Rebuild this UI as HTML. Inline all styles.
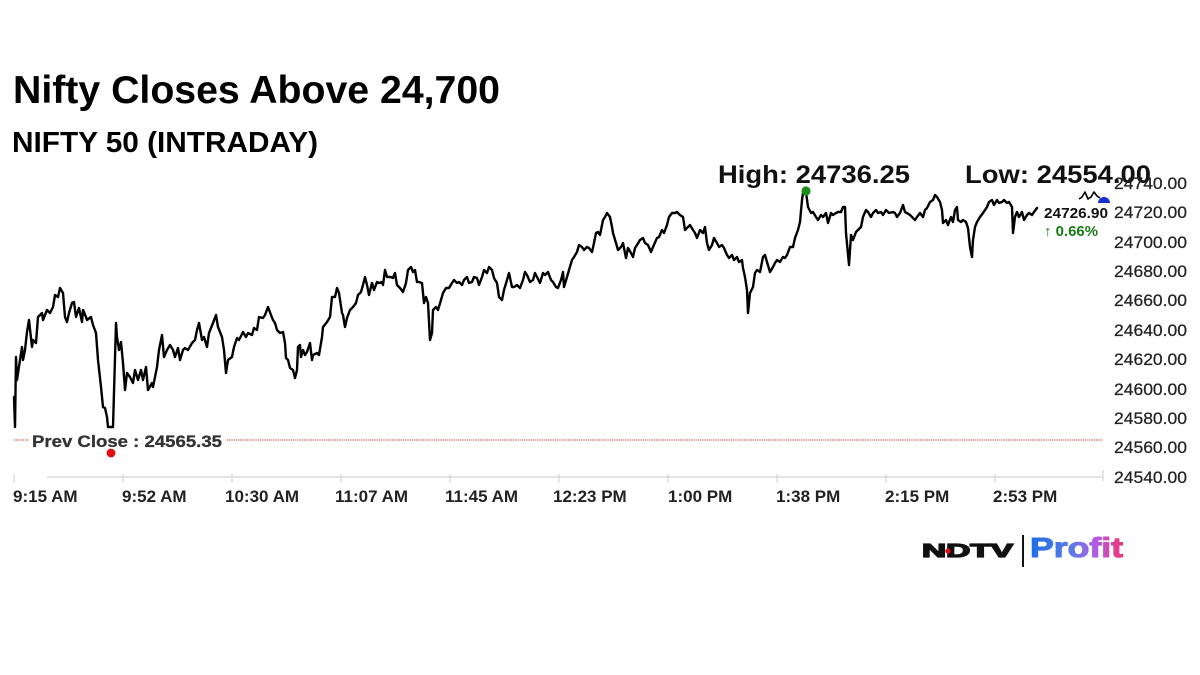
<!DOCTYPE html>
<html>
<head>
<meta charset="utf-8">
<style>
  html, body { margin:0; padding:0; background:#fff; }
  svg { display:block; }
  text { font-family: "Liberation Sans", Arial, sans-serif; }
</style>
</head>
<body>
<svg width="1200" height="675" viewBox="0 0 1200 675" xmlns="http://www.w3.org/2000/svg">
  <defs>
    <linearGradient id="pg" x1="0" y1="0" x2="1" y2="0">
      <stop offset="0" stop-color="#1e6fe6"/>
      <stop offset="0.45" stop-color="#5b7be8"/>
      <stop offset="0.7" stop-color="#b05ce6"/>
      <stop offset="1" stop-color="#f0357a"/>
    </linearGradient>
  </defs>
  <rect width="1200" height="675" fill="#fff"/>

  <!-- Titles -->
  <text x="13" y="103" font-size="39" font-weight="bold" fill="#000" textLength="487" lengthAdjust="spacingAndGlyphs">Nifty Closes Above 24,700</text>
  <text x="12" y="152" font-size="29" font-weight="bold" fill="#000" textLength="306" lengthAdjust="spacingAndGlyphs">NIFTY 50 (INTRADAY)</text>

  <!-- High / Low -->
  <text x="718" y="183" font-size="25" font-weight="bold" fill="#111" textLength="192" lengthAdjust="spacingAndGlyphs">High: 24736.25</text>
  <text x="965" y="183" font-size="25" font-weight="bold" fill="#111" textLength="186" lengthAdjust="spacingAndGlyphs">Low: 24554.00</text>

  <!-- Y axis labels -->
  <g font-size="17" fill="#222" stroke="#222" stroke-width="0.25">
    <text x="1114" y="189" textLength="73" lengthAdjust="spacingAndGlyphs">24740.00</text>
    <text x="1114" y="218" textLength="73" lengthAdjust="spacingAndGlyphs">24720.00</text>
    <text x="1114" y="248" textLength="73" lengthAdjust="spacingAndGlyphs">24700.00</text>
    <text x="1114" y="277" textLength="73" lengthAdjust="spacingAndGlyphs">24680.00</text>
    <text x="1114" y="306" textLength="73" lengthAdjust="spacingAndGlyphs">24660.00</text>
    <text x="1114" y="336" textLength="73" lengthAdjust="spacingAndGlyphs">24640.00</text>
    <text x="1114" y="365" textLength="73" lengthAdjust="spacingAndGlyphs">24620.00</text>
    <text x="1114" y="395" textLength="73" lengthAdjust="spacingAndGlyphs">24600.00</text>
    <text x="1114" y="424" textLength="73" lengthAdjust="spacingAndGlyphs">24580.00</text>
    <text x="1114" y="453" textLength="73" lengthAdjust="spacingAndGlyphs">24560.00</text>
    <text x="1114" y="483" textLength="73" lengthAdjust="spacingAndGlyphs">24540.00</text>
  </g>

  <!-- X axis -->
  <line x1="47" y1="477" x2="1103" y2="477" stroke="#d4d4d4" stroke-width="1.2"/>
  <g stroke="#d4d4d4" stroke-width="1.2">
    <line x1="14" y1="474" x2="14" y2="483"/>
    <line x1="123" y1="474" x2="123" y2="483"/>
    <line x1="232" y1="474" x2="232" y2="483"/>
    <line x1="341" y1="474" x2="341" y2="483"/>
    <line x1="450" y1="474" x2="450" y2="483"/>
    <line x1="559" y1="474" x2="559" y2="483"/>
    <line x1="668" y1="474" x2="668" y2="483"/>
    <line x1="777" y1="474" x2="777" y2="483"/>
    <line x1="886" y1="474" x2="886" y2="483"/>
    <line x1="995" y1="474" x2="995" y2="483"/>
    <line x1="1103" y1="470" x2="1103" y2="481"/>
  </g>
  <g font-size="17" font-weight="bold" fill="#222">
    <text x="13" y="502">9:15 AM</text>
    <text x="122" y="502">9:52 AM</text>
    <text x="225" y="502">10:30 AM</text>
    <text x="335" y="502">11:07 AM</text>
    <text x="445" y="502">11:45 AM</text>
    <text x="553" y="502">12:23 PM</text>
    <text x="668" y="502">1:00 PM</text>
    <text x="776" y="502">1:38 PM</text>
    <text x="885" y="502">2:15 PM</text>
    <text x="993" y="502">2:53 PM</text>
  </g>

  <!-- Prev close -->
  <line x1="14" y1="440" x2="29" y2="440" stroke="#b33" stroke-width="1" stroke-dasharray="1.2,1"/>
  <line x1="227" y1="440" x2="1103" y2="440" stroke="#b33" stroke-width="1" stroke-dasharray="1.2,1"/>
  <text x="32" y="447" font-size="17" font-weight="bold" fill="#333" stroke="#333" stroke-width="0.3" textLength="190" lengthAdjust="spacingAndGlyphs">Prev Close : 24565.35</text>

  <!-- Main series -->
  <polyline fill="none" stroke="#000" stroke-width="2.4" stroke-linejoin="round" stroke-linecap="round" points="
14,397 15,427 16,357 17,380 20,360 22,347 23,360 25,350 27,332 29,320 32,347 33,340 36,343 38,317 42,313 43,320 47,310 50,313 53,307 55,295 58,297 60,288 63,293 65,317 67,322 69,313 72,303 74,302 76,317 79,308 82,322 83,310 86,317 87,320 91,317 93,325 96,333 98,360 101,387 103,407 105,408 107,417 108,427 113,427 116,323 117,337 119,350 121,342 123,363 125,390 127,373 130,377 133,383 135,370 138,380 141,370 143,380 146,367 148,390 152,383 153,387 157,367 159,350 162,335 164,357 167,350 170,345 173,350 175,357 178,348 180,360 183,350 185,348 188,350 192,343 195,340 197,330 199,323 202,340 204,337 207,347 209,333 213,323 216,315 218,327 222,337 224,350 226,373 228,360 232,357 234,347 237,338 239,340 243,332 246,337 248,333 252,335 254,328 257,330 259,317 263,318 265,315 268,307 271,315 273,320 275,323 277,330 280,333 283,332 285,343 286,358 288,360 290,368 293,370 295,378 297,370 298,347 300,345
301,357 303,350 305,355 307,352 310,343 312,360 313,355 317,353 319,355 322,337 323,327 327,322 330,317 332,297 335,297 337,288 339,293 342,313 343,315 345,327 347,318 350,310 353,307 356,303 358,295 361,292 363,285 365,277 367,285 369,295 372,283 374,290 377,282 379,283 382,282 383,285 385,270 387,277 391,277 393,278 395,273 397,285 400,288 403,292 406,283 408,270 411,267 413,272 415,270 417,282 419,282 422,283 424,303 426,297 428,303 430,340 432,333 433,310 436,307 438,310 441,300 443,293 446,288 449,288 452,283 454,280 457,283 459,282 462,285 464,280 467,277 469,283 472,282 474,277 477,278 479,285 482,277 484,270 487,273 489,267 492,270 494,278 497,283 499,297 502,300 504,290 507,280 509,273 512,287 514,287 517,285 520,288 523,280 525,272 527,275 530,282 533,280 535,273 537,277 540,283 543,273 545,275 548,272 551,280 553,282 556,287 558,288 561,280 563,272 564,287 567,277 569,270 572,260 574,257 577,252 579,245 582,247 584,250 587,247 589,248 592,252 594,243 596,233 598,232 600,235
603,220 605,217 607,213 610,217 612,227 613,233 616,243 618,250 621,247 623,243 626,258 628,248 631,253 633,257 635,248 637,245 640,240 643,238 645,243 648,245 651,252 653,247 657,238 659,237 662,230 664,233 667,225 669,217 672,213 675,213 677,212 680,215 683,217 685,230 687,228 690,225 693,230 695,233 697,238 700,230 703,233 705,227 707,243 709,250 712,245 714,238 717,243 719,247 722,245 724,248 727,255 729,258 732,255 734,260 737,257 739,262 742,260 743,268 745,277 747,290 748,313 750,293 753,287 755,273 757,270 760,272 763,257 765,255 767,262 770,272 773,267 775,263 777,260 780,262 783,257 785,258 787,255 790,247 793,247 795,238 798,230 800,222 802,200 803,193 806,192 808,207 811,213 813,212 816,217 818,220 821,215 823,217 826,213 828,223 831,213 833,215 836,213 838,212 841,212 843,207 845,207
846,233 849,265 851,235 853,240 856,232 858,230 861,227 863,217 866,210 868,212 871,217 873,213 876,210 878,213 881,212 883,215 886,210 889,213 893,212 895,213 897,217 900,213 903,205 905,212 907,213 910,215 913,218 915,220 917,217 920,213 923,217 925,210 927,208 930,202 933,200 935,195 937,197 940,202 942,210 943,223 946,220 948,225 951,217 953,222 955,210 957,207 958,220 961,222 963,220 966,222 968,228 970,247 972,257 973,240 975,227 977,222 980,217 983,213 985,210 987,207 989,202 992,200 994,205 997,200 999,203 1002,202 1004,200 1007,203 1009,202 1012,207 1013,233 1015,217 1017,212 1019,217 1022,212 1024,220 1027,215 1029,213 1032,215 1034,212 1037,208"/>

  <!-- small artifact near end -->
  <polyline fill="none" stroke="#000" stroke-width="1.6" stroke-linejoin="round" points="1079,199 1082,197 1085,192 1088,199 1091,197 1094,192 1097,196 1100,198"/>
  <path d="M1098,203 A6,6 0 0 1 1110,203 Z" fill="#1a2fd0"/>

  <!-- markers -->
  <circle cx="806" cy="191" r="4.6" fill="#1a8c1a"/>
  <circle cx="111" cy="453" r="4.4" fill="#e01010"/>

  <!-- last value -->
  <text x="1044" y="218" font-size="15" font-weight="bold" fill="#111" textLength="64" lengthAdjust="spacingAndGlyphs">24726.90</text>
  <text x="1044" y="236" font-size="14.5" font-weight="bold" fill="#1a7a1a" textLength="54" lengthAdjust="spacingAndGlyphs">↑ 0.66%</text>

  <!-- Logo -->
  <text x="922" y="557" font-size="18" font-weight="bold" fill="#111" stroke="#111" stroke-width="1.3" textLength="91" lengthAdjust="spacingAndGlyphs">NDTV</text>
  <circle cx="948" cy="551" r="2.6" fill="#e01010"/>
  <line x1="1023" y1="535" x2="1023" y2="567" stroke="#111" stroke-width="2"/>
  <text x="1030" y="557" font-size="28" font-weight="bold" fill="url(#pg)" stroke="url(#pg)" stroke-width="1" textLength="93" lengthAdjust="spacingAndGlyphs">Profit</text>
</svg>
</body>
</html>
